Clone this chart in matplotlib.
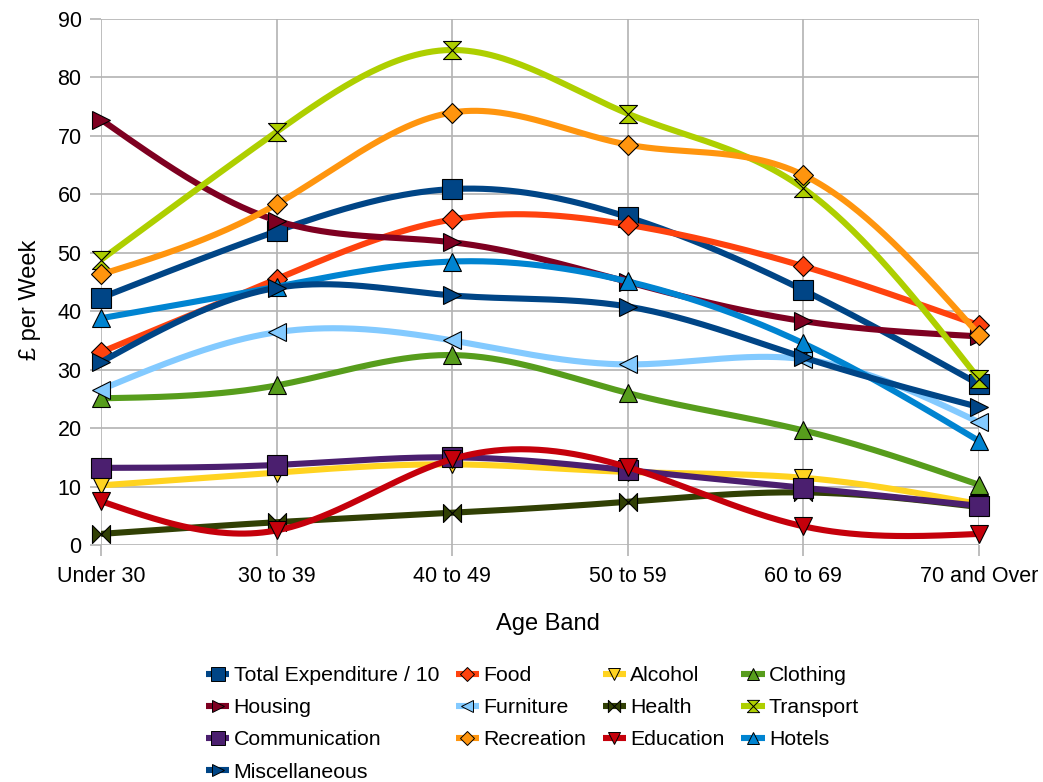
import numpy as np
import matplotlib
matplotlib.use("Agg")
import matplotlib.pyplot as plt
from matplotlib.path import Path
from matplotlib.lines import Line2D

plt.rcParams["font.family"] = ["Liberation Sans", "DejaVu Sans"]

# ---- data: weekly spending (GBP) by age band ----
age_bands = ["Under 30", "30 to 39", "40 to 49", "50 to 59", "60 to 69", "70 and Over"]

total_div10   = [42.3, 53.7, 60.9, 56.1, 43.6, 27.5]
food          = [33.0, 45.5, 55.7, 54.8, 47.7, 37.6]
alcohol       = [10.2, 12.4, 13.8, 12.5, 11.5, 7.0]
clothing      = [25.1, 27.3, 32.5, 26.0, 19.6, 10.3]
housing       = [72.8, 55.5, 51.8, 45.0, 38.3, 35.7]
furniture     = [26.6, 36.4, 35.0, 30.9, 31.8, 21.0]
health        = [1.9, 3.9, 5.5, 7.4, 9.0, 6.5]
transport     = [48.8, 70.7, 84.7, 73.8, 61.0, 28.4]
communication = [13.2, 13.7, 15.0, 12.8, 9.8, 6.7]
recreation    = [46.3, 58.3, 74.0, 68.5, 63.3, 36.0]
education     = [7.5, 2.5, 14.7, 13.3, 3.2, 1.9]
hotels        = [38.8, 44.2, 48.5, 45.1, 34.5, 17.8]
miscellaneous = [31.3, 44.0, 42.7, 40.8, 32.1, 23.6]

# custom marker shapes
bowtie = Path([(-1, 1), (1, -1), (1, 1), (-1, -1), (-1, 1)],
              [Path.MOVETO, Path.LINETO, Path.LINETO, Path.LINETO, Path.CLOSEPOLY])
hourglass = Path([(-1, 1), (1, 1), (-1, -1), (1, -1), (-1, 1)],
                 [Path.MOVETO, Path.LINETO, Path.LINETO, Path.LINETO, Path.CLOSEPOLY])

series = [
    ("Total Expenditure / 10", total_div10, "#004586", "s", 14.5),
    ("Food", food, "#ff420e", "D", 9.8),
    ("Alcohol", alcohol, "#ffd320", "v", 13),
    ("Clothing", clothing, "#579d1c", "^", 13),
    ("Housing", housing, "#7e0021", ">", 13),
    ("Furniture", furniture, "#83caff", "<", 13),
    ("Health", health, "#314004", bowtie, 13),
    ("Transport", transport, "#aecf00", hourglass, 13),
    ("Communication", communication, "#4b1f6f", "s", 14.5),
    ("Recreation", recreation, "#ff950e", "D", 9.8),
    ("Education", education, "#c5000b", "v", 13),
    ("Hotels", hotels, "#0084d1", "^", 13),
    ("Miscellaneous", miscellaneous, "#004586", ">", 13),
]


def natural_spline(x, y, n=300):
    """Natural cubic spline through (x, y), sampled at n points."""
    x = np.asarray(x, float)
    y = np.asarray(y, float)
    k = len(x)
    h = np.diff(x)
    A = np.zeros((k, k))
    b = np.zeros(k)
    A[0, 0] = A[-1, -1] = 1.0
    for i in range(1, k - 1):
        A[i, i - 1] = h[i - 1]
        A[i, i] = 2 * (h[i - 1] + h[i])
        A[i, i + 1] = h[i]
        b[i] = 6 * ((y[i + 1] - y[i]) / h[i] - (y[i] - y[i - 1]) / h[i - 1])
    M = np.linalg.solve(A, b)
    xs = np.linspace(x[0], x[-1], n)
    idx = np.clip(np.searchsorted(x, xs, side="right") - 1, 0, k - 2)
    x0, x1 = x[idx], x[idx + 1]
    hi = x1 - x0
    t0 = x1 - xs
    t1 = xs - x0
    ys = (M[idx] * t0 ** 3 / (6 * hi) + M[idx + 1] * t1 ** 3 / (6 * hi)
          + (y[idx] / hi - M[idx] * hi / 6) * t0
          + (y[idx + 1] / hi - M[idx + 1] * hi / 6) * t1)
    return xs, ys


fig = plt.figure(figsize=(10.43, 7.82), dpi=100)
ax = fig.add_axes([101 / 1043, 1 - 545 / 782, 878 / 1043, 526 / 782])

xpos = np.arange(len(age_bands))
grid_col = "#b3b3b3"
handles = {}
for i, (name, vals, col, mk, ms) in enumerate(series):
    xs, ys = natural_spline(xpos, vals)
    ax.plot(xs, ys, color=col, lw=4.4, zorder=3 + 2 * i, solid_capstyle="butt")
    ax.plot(xpos, vals, linestyle="none", marker=mk, ms=ms, mfc=col, mec="black",
            mew=0.8, zorder=4 + 2 * i, clip_on=False)
    handles[name] = Line2D([], [], color=col, lw=4.4, marker=mk,
                           ms=ms * 0.68, mfc=col, mec="black", mew=0.7,
                           solid_capstyle="butt")

ax.set_xlim(0, 5)
ax.set_ylim(0, 90)
ax.set_xticks(xpos)
ax.set_xticklabels(age_bands)
ax.set_yticks(np.arange(0, 91, 10))
for s in ax.spines.values():
    s.set_visible(False)
ax.grid(True, color=grid_col, lw=1.2, zorder=0)
ax.set_axisbelow(True)
ax.tick_params(axis="both", colors=grid_col, length=8, width=1.2, labelsize=15.5,
               labelcolor="black")
ax.tick_params(axis="x", pad=7)
ax.tick_params(axis="y", pad=6)

fig.text(548 / 1043, 1 - 624 / 782, "Age Band", ha="center", va="center", fontsize=17)
fig.text(30 / 1043, 1 - 300 / 782, "£ per Week", ha="center", va="center",
         rotation=90, fontsize=17)

# legend filled row by row across four columns
order = ["Total Expenditure / 10", "Housing", "Communication", "Miscellaneous",
         "Food", "Furniture", "Recreation",
         "Alcohol", "Health", "Education",
         "Clothing", "Transport", "Hotels"]
fig.legend([handles[n] for n in order], order, ncol=4, loc="upper left",
           bbox_to_anchor=(206 / 1043, 1 - 666 / 782), frameon=False,
           fontsize=15.3, borderpad=0, borderaxespad=0, handlelength=1.1,
           handletextpad=0.2, columnspacing=0.78, labelspacing=0.62)

fig.savefig("out.png", dpi=100)
